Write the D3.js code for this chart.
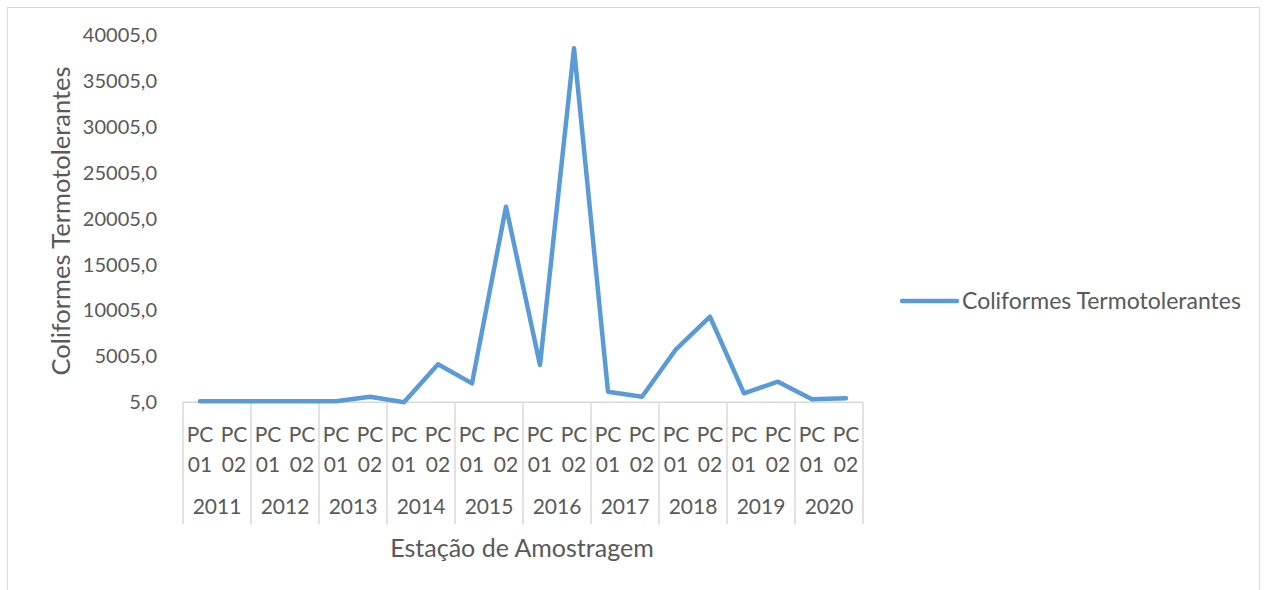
<!DOCTYPE html>
<html>
<head>
<meta charset="utf-8">
<script src="https://cdn.jsdelivr.net/npm/d3@7"></script>
<style>
  body { margin: 0; background: #fff; }
  text { font-family: Lato, "Open Sans", sans-serif; fill: #595959; }
</style>
</head>
<body>
<div id="app"></div>
<script>
const years = ["2011", "2012", "2013", "2014", "2015", "2016", "2017", "2018", "2019", "2020"];
const stations = ["PC 01", "PC 02"];
// Coliformes Termotolerantes, one value per year/station pair
const values = [120, 120, 120, 120, 120, 610, 20, 4150, 2070, 21320,
                4070, 38590, 1160, 610, 5780, 9330, 985, 2250, 330, 440];
const yTicks = [5, 5005, 10005, 15005, 20005, 25005, 30005, 35005, 40005];
const seriesName = "Coliformes Termotolerantes";

const width = 1267, height = 590;
const margin = { left: 183, right: 404, top: 35.3, bottom: 187.7 };

const categories = years.flatMap(y => stations.map(s => ({ year: y, station: s })));

const svg = d3.select("#app").append("svg")
  .attr("width", width)
  .attr("height", height);

// chart border
svg.append("rect")
  .attr("x", 7.5).attr("y", 7.5)
  .attr("width", 1252).attr("height", 600)
  .attr("fill", "none")
  .attr("stroke", "#d9d9d9");

const x = d3.scaleBand()
  .domain(d3.range(categories.length))
  .range([margin.left, width - margin.right]);

const xYear = d3.scaleBand()
  .domain(years)
  .range([margin.left, width - margin.right]);

const y = d3.scaleLinear()
  .domain([5, 40005])
  .range([height - margin.bottom, margin.top]);

const fmt = d => d.toFixed(1).replace(".", ",");

// y axis (labels only)
const yAxis = svg.append("g")
  .attr("transform", `translate(${margin.left - 26},0)`)
  .call(d3.axisLeft(y).tickValues(yTicks).tickFormat(fmt).tickSize(0).tickPadding(0));
yAxis.select(".domain").remove();
yAxis.selectAll("text")
  .attr("font-size", 20)
  .attr("fill", "#595959")
  .style("font-family", "Lato, sans-serif");

// x axis line
const y0 = y(5);
svg.append("line")
  .attr("x1", margin.left).attr("x2", width - margin.right)
  .attr("y1", y0).attr("y2", y0)
  .attr("stroke", "#d9d9d9").attr("stroke-width", 1.5);

// year boundaries
const bounds = years.map(d => xYear(d)).concat([xYear.range()[1]]);
svg.append("g").selectAll("line")
  .data(bounds)
  .join("line")
  .attr("x1", d => d).attr("x2", d => d)
  .attr("y1", y0).attr("y2", 524)
  .attr("stroke", "#d9d9d9").attr("stroke-width", 1.5);

// station labels (wrapped in two lines)
const catLabels = svg.append("g").selectAll("text")
  .data(categories)
  .join("text")
  .attr("text-anchor", "middle")
  .attr("font-size", 21);
catLabels.append("tspan")
  .attr("x", (d, i) => x(i) + x.bandwidth() / 2)
  .attr("y", 442)
  .text(d => d.station.split(" ")[0]);
catLabels.append("tspan")
  .attr("x", (d, i) => x(i) + x.bandwidth() / 2)
  .attr("y", 471.5)
  .text(d => d.station.split(" ")[1]);

// year labels
svg.append("g").selectAll("text")
  .data(years)
  .join("text")
  .attr("x", d => xYear(d) + xYear.bandwidth() / 2)
  .attr("y", 514)
  .attr("text-anchor", "middle")
  .attr("font-size", 21)
  .text(d => d);

// series line
const line = d3.line()
  .x((d, i) => x(i) + x.bandwidth() / 2)
  .y(d => y(d));

svg.append("path")
  .datum(values)
  .attr("d", line)
  .attr("fill", "none")
  .attr("stroke", "#5b9bd5")
  .attr("stroke-width", 4.5)
  .attr("stroke-linejoin", "round")
  .attr("stroke-linecap", "round");

// axis titles
svg.append("text")
  .attr("transform", `translate(70,221) rotate(-90)`)
  .attr("text-anchor", "middle")
  .attr("font-size", 25.5)
  .text(seriesName);

svg.append("text")
  .attr("x", 522)
  .attr("y", 557)
  .attr("text-anchor", "middle")
  .attr("font-size", 25)
  .text("Estação de Amostragem");

// legend
const legend = svg.append("g").attr("transform", "translate(902,301)");
legend.append("line")
  .attr("x1", 0).attr("x2", 55)
  .attr("stroke", "#5b9bd5")
  .attr("stroke-width", 4.5)
  .attr("stroke-linecap", "round");
legend.append("text")
  .attr("x", 60)
  .attr("y", 8)
  .attr("font-size", 23)
  .text(seriesName);
</script>
</body>
</html>
